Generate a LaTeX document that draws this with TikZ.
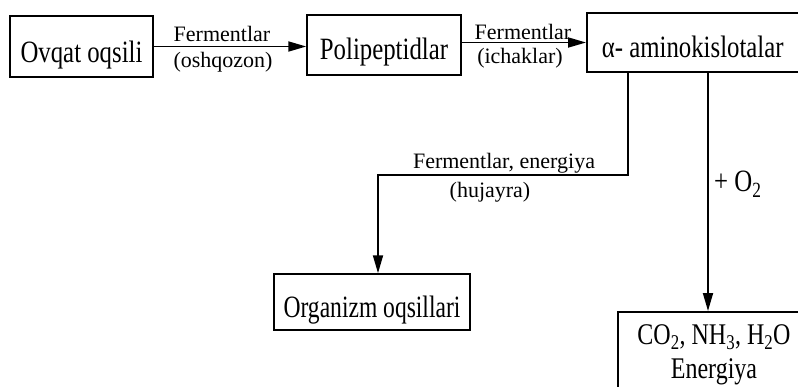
\documentclass[tikz,border=0pt]{standalone}
\usepackage{fontspec}
\usepackage{graphicx}
\setmainfont{Liberation Serif}
\usetikzlibrary{arrows.meta}
\newcommand{\hsq}[2]{\scalebox{#1}[1]{#2}}
\tikzset{
  box/.style={draw, line width=1.5pt, font=\fontsize{31}{36}\selectfont, inner xsep=0pt, inner ysep=0pt},
  big/.style={font=\fontsize{31}{36}\selectfont, inner sep=0pt},
  lab/.style={font=\fontsize{22}{26}\selectfont, inner sep=0pt},
  conn/.style={line width=1.8pt},
  arr/.style={conn, -{Triangle[length=18pt,width=10pt]}}
}
\begin{document}
\begin{tikzpicture}[x=1pt,y=-1pt]
\useasboundingbox (0,0) rectangle (798,386);
\clip (0,0) rectangle (798,386);
\node[box, minimum width=143pt, text height=46pt, text depth=15pt] (ov) at (81.5,46.5) {\hsq{0.8}{Ovqat oqsili}};
\node[box, minimum width=154pt, text height=44pt, text depth=16pt] (pp) at (384,45) {\hsq{0.8}{Polipeptidlar}};
\node[box, anchor=west, minimum width=212pt, text height=44pt, text depth=15pt] (am) at (586,42.5) {\hsq{0.8}{α- aminokislotalar}};
\node[box, minimum width=196pt, text height=43pt, text depth=13pt] (org) at (372,302) {\hsq{0.76}{Organizm oqsillari}};
\node[box, anchor=north west, minimum width=194pt, minimum height=100pt] (co) at (617,311) {};
\node[big, anchor=base, font=\fontsize{30}{34}\selectfont] (co1) at (714,344) {\hsq{0.8}{CO\textsubscript{2}, NH\textsubscript{3}, H\textsubscript{2}O}};
\node[big, anchor=base, font=\fontsize{30}{34}\selectfont] (co2) at (714,378) {\hsq{0.8}{Energiya}};

\draw[arr] (ov.east) -- (ov.east -| pp.west);
\draw[arr] (am.west -| pp.east) -- (am.west);

\node[lab] (l1a) at (222,34) {Fermentlar};
\node[lab] (l1b) at (223,62) {(oshqozon)};
\node[lab] (l2a) at (523,32) {Fermentlar};
\node[lab] (l2b) at (520,58) {(ichaklar)};

\coordinate (s1) at ([xshift=42pt]am.south west);
\coordinate (bend) at (378,175);
\draw[arr] (s1) |- (bend) -- (bend |- org.north);

\coordinate (s2) at ([xshift=122pt]am.south west);
\draw[arr] (s2) -- (s2 |- co.north);

\node[lab] (l3a) at (504,163) {Fermentlar, energiya};
\node[lab] (l3b) at (490,192) {(hujayra)};
\node[big, anchor=west] (o2) at (714,184) {\hsq{0.8}{+ O\textsubscript{2}}};
\end{tikzpicture}
\end{document}
